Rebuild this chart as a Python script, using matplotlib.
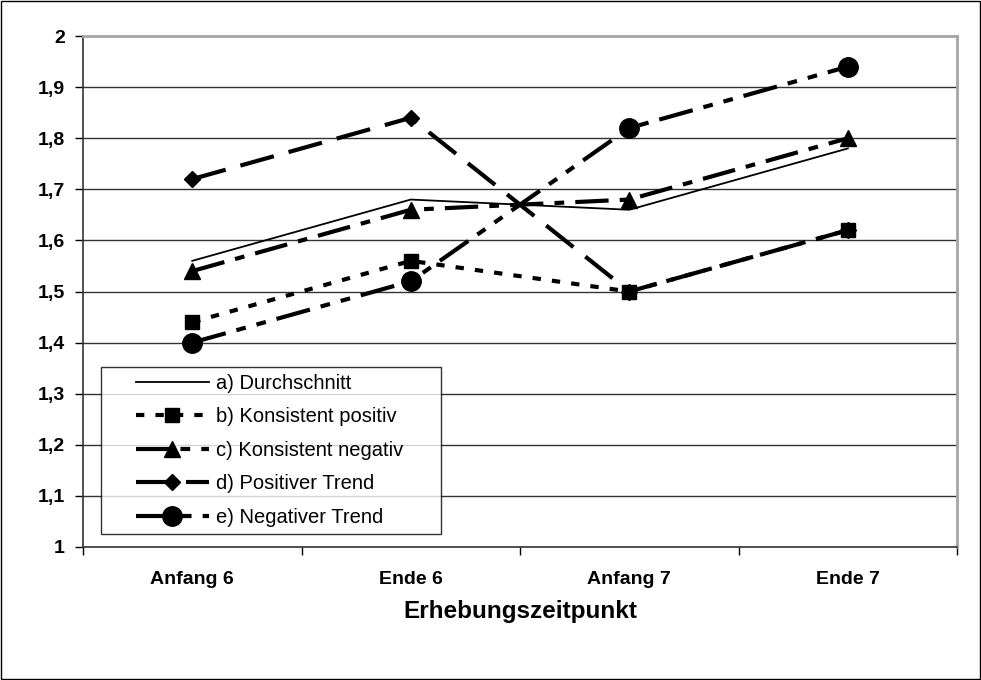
import matplotlib.pyplot as plt
from matplotlib.patches import Rectangle
from matplotlib.legend_handler import HandlerLine2D
from matplotlib.ticker import FixedLocator, FuncFormatter

plt.rcParams['font.family'] = ['Liberation Sans', 'DejaVu Sans']
plt.rcParams['lines.scale_dashes'] = False

# Erhebungszeitpunkte
categories = ["Anfang 6", "Ende 6", "Anfang 7", "Ende 7"]

durchschnitt = [1.56, 1.68, 1.66, 1.78]
konsistent_pos = [1.44, 1.56, 1.50, 1.62]
konsistent_neg = [1.54, 1.66, 1.68, 1.80]
positiver_trend = [1.72, 1.84, 1.50, 1.62]
negativer_trend = [1.40, 1.52, 1.82, 1.94]

labels = ["a) Durchschnitt", "b) Konsistent positiv", "c) Konsistent negativ",
          "d) Positiver Trend", "e) Negativer Trend"]


class IndentedLine(HandlerLine2D):
    # legend sample line, shifted right inside its handle box
    def __init__(self, indent, **kw):
        super().__init__(**kw)
        self.indent = indent

    def create_artists(self, legend, orig_handle, xdescent, ydescent, width,
                       height, fontsize, trans):
        return super().create_artists(legend, orig_handle, xdescent - self.indent,
                                      ydescent, width - self.indent, height,
                                      fontsize, trans)


def main():
    fig = plt.figure(figsize=(9.81, 6.80), dpi=100)
    ax = fig.add_axes([0.0846, 0.1956, 0.891, 0.7514])

    x = list(range(len(categories)))

    lines = []
    lines += ax.plot(x, durchschnitt, color="black", lw=1.3, label=labels[0], zorder=3)
    lines += ax.plot(x, konsistent_pos, color="black", lw=3, dashes=(6, 8),
                     marker="s", ms=10, label=labels[1], zorder=4)
    lines += ax.plot(x, konsistent_neg, color="black", lw=3, dashes=(24, 8, 7, 8),
                     marker="^", ms=11, label=labels[2], zorder=4)
    lines += ax.plot(x, positiver_trend, color="black", lw=3, dashes=(25, 11),
                     marker="D", ms=8, label=labels[3], zorder=3)
    lines += ax.plot(x, negativer_trend, color="black", lw=3, dashes=(25, 8, 7, 8, 7, 8),
                     marker="o", ms=14, label=labels[4], zorder=4)

    ax.set_xlim(-0.5, len(categories) - 0.5)
    ax.set_ylim(1, 2)

    ax.xaxis.set_major_locator(FixedLocator([i - 0.5 for i in range(len(categories) + 1)]))
    ax.xaxis.set_major_formatter(FuncFormatter(lambda v, p: ""))
    ax.set_xticks(x, minor=True)
    ax.set_xticklabels(categories, minor=True, fontsize=14, fontweight="bold")
    ax.tick_params(axis="x", which="minor", length=0, pad=17)
    ax.tick_params(axis="x", which="major", length=6, width=1, direction="out")

    yt = [1 + i / 10 for i in range(11)]
    ax.set_yticks(yt)
    ax.yaxis.set_major_formatter(FuncFormatter(
        lambda v, p: ("%g" % round(v, 1)).replace(".", ",")))
    ax.tick_params(axis="y", length=6, width=1, direction="out", pad=7,
                   labelsize=14)
    for t in ax.get_yticklabels():
        t.set_fontweight("bold")

    ax.grid(axis="y", color="#333333", lw=1)
    ax.set_axisbelow(True)

    for s in ("left", "bottom"):
        ax.spines[s].set_color("#333333")
        ax.spines[s].set_linewidth(1.2)
    for s in ("top", "right"):
        ax.spines[s].set_color("#a6a6a6")
        ax.spines[s].set_linewidth(2)

    ax.set_xlabel("Erhebungszeitpunkt", fontsize=17.5, fontweight="bold", labelpad=9)

    leg = ax.legend(loc="lower left", bbox_to_anchor=(0.0206, 0.0254, 0.389, 0.3),
                    mode="expand", fontsize=14.5,
                    frameon=True, fancybox=False, edgecolor="black",
                    handlelength=5.0, handletextpad=0.35, labelspacing=0.72,
                    borderpad=0.35, borderaxespad=0,
                    handler_map={ln: IndentedLine(20) for ln in lines})
    leg.get_frame().set_linewidth(1)
    leg.set_zorder(6)

    fig.patches.append(Rectangle((0.001, 0.001), 0.998, 0.997, transform=fig.transFigure,
                                 fill=False, edgecolor="black", lw=1))

    fig.savefig("out.png", dpi=100)


if __name__ == "__main__":
    main()
